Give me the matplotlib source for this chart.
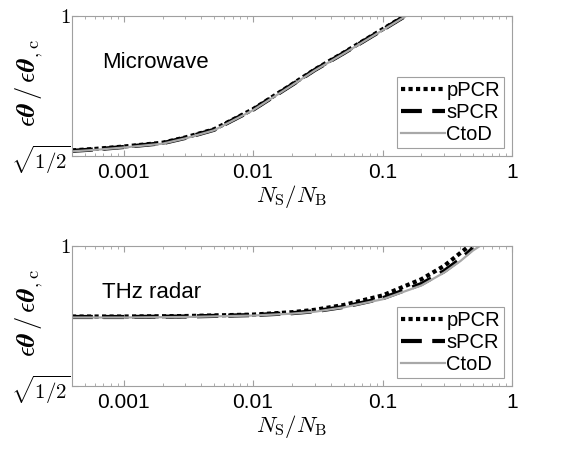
import numpy as np
import matplotlib
matplotlib.use('Agg')
import matplotlib.pyplot as plt
from matplotlib.ticker import FixedLocator, LogLocator, NullFormatter

plt.rcParams['font.family'] = ['Liberation Sans', 'DejaVu Sans']
plt.rcParams['mathtext.fontset'] = 'cm'

# values
y_low = np.sqrt(0.5)

mw_x = [4e-4, 6e-4, 1e-3, 2e-3, 3e-3, 5e-3, 1e-2, 2e-2, 3e-2, 5e-2, 0.1, 0.15]
mw_ppcr = [0.719, 0.722, 0.727, 0.735, 0.746, 0.763, 0.805, 0.857, 0.888, 0.923, 0.972, 1.001]
mw_spcr = [0.718, 0.721, 0.726, 0.734, 0.745, 0.762, 0.804, 0.856, 0.887, 0.922, 0.971, 1.0]
mw_ctod = [0.717, 0.720, 0.725, 0.733, 0.744, 0.761, 0.803, 0.855, 0.886, 0.921, 0.970, 0.999]

thz_x = [4e-4, 1e-3, 3e-3, 1e-2, 2e-2, 3e-2, 5e-2, 0.1, 0.2, 0.3, 0.4, 0.47, 0.5, 0.57]
thz_ppcr = [0.852, 0.852, 0.853, 0.856, 0.861, 0.866, 0.876, 0.896, 0.930, 0.958, 0.985, 1.0, np.nan, np.nan]
thz_spcr = [0.851, 0.851, 0.852, 0.855, 0.859, 0.863, 0.872, 0.890, 0.920, 0.947, 0.972, 0.988, 0.995, np.nan]
thz_ctod = [0.850, 0.850, 0.851, 0.854, 0.858, 0.862, 0.871, 0.888, 0.917, 0.944, 0.968, 0.984, 0.990, 1.0]

x_ticks = [1e-3, 1e-2, 1e-1, 1]
x_labels = ['0.001', '0.01', '0.1', '1']
y_ticks = [y_low, 1]
y_labels = [r'$\sqrt{1/2}$', r'$1$']

panels = [
    ('Microwave', mw_x, mw_ppcr, mw_spcr, mw_ctod),
    ('THz radar', thz_x, thz_ppcr, thz_spcr, thz_ctod),
]

spine_col = '#a0a0a0'

fig = plt.figure(figsize=(5.67, 4.55), dpi=100)
axes = [fig.add_axes([0.127, 0.657, 0.776, 0.308]),
        fig.add_axes([0.127, 0.152, 0.776, 0.308])]

for ax, (name, x, pp, sp, ct) in zip(axes, panels):
    ax.plot(x, pp, color='black', linestyle=(0, (1.0, 0.8)), linewidth=3.0, label='pPCR')
    ax.plot(x, sp, color='black', linestyle=(0, (5, 2.5)), linewidth=3.0, label='sPCR')
    ax.plot(x, ct, color='#a8a8a8', linestyle='-', linewidth=1.6, label='CtoD')
    ax.set_xscale('log')
    ax.set_xlim(4e-4, 1)
    ax.set_ylim(y_low, 1)
    ax.xaxis.set_major_locator(FixedLocator(x_ticks))
    ax.set_xticklabels(x_labels, fontsize=15)
    ax.xaxis.set_minor_locator(LogLocator(base=10, subs=np.arange(2, 10)))
    ax.xaxis.set_minor_formatter(NullFormatter())
    ax.set_yticks(y_ticks)
    ax.set_yticklabels(y_labels, fontsize=15)
    ax.tick_params(which='both', direction='in', top=True, right=True, colors=spine_col,
                   labelcolor='black')
    ax.tick_params(which='major', length=4)
    ax.tick_params(which='minor', length=2.5)
    ax.tick_params(axis='x', pad=5)
    ax.tick_params(axis='y', pad=1)
    for s in ax.spines.values():
        s.set_color(spine_col)
        s.set_linewidth(0.8)
    ax.set_xlabel(r'$N_\mathrm{S}/N_\mathrm{B}$', fontsize=16.5, labelpad=1)
    ax.set_ylabel(r'$\epsilon\boldsymbol{\theta}\,/\,\epsilon\boldsymbol{\theta}_{,\mathrm{c}}$',
                  fontsize=19)
    ax.yaxis.set_label_coords(-0.062, 0.52)
    ax.text(0.068, 0.63, name, transform=ax.transAxes, fontsize=16)
    leg = ax.legend(loc='lower right', fontsize=14.5, handlelength=2.2, handletextpad=0.05,
                    borderpad=0.2, labelspacing=0.15, fancybox=False, framealpha=1,
                    borderaxespad=0.4)
    leg.get_frame().set_edgecolor(spine_col)
    leg.get_frame().set_linewidth(0.8)

fig.savefig('out.png', dpi=100)
